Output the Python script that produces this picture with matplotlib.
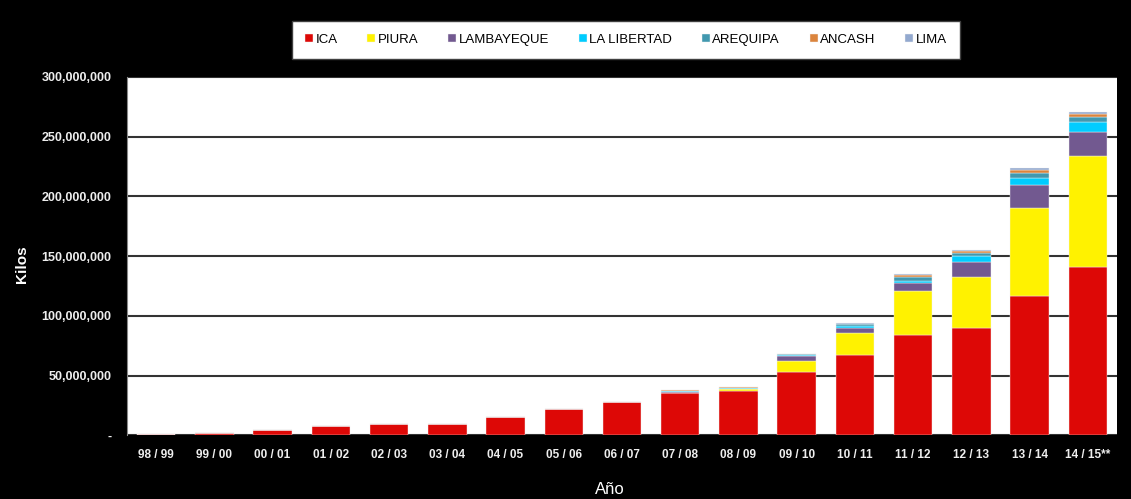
import matplotlib.pyplot as plt
from matplotlib.ticker import FuncFormatter
import numpy as np

plt.rcParams["font.family"] = ["Liberation Sans", "DejaVu Sans"]

years = ["98 / 99", "99 / 00", "00 / 01", "01 / 02", "02 / 03", "03 / 04",
         "04 / 05", "05 / 06", "06 / 07", "07 / 08", "08 / 09", "09 / 10",
         "10 / 11", "11 / 12", "12 / 13", "13 / 14", "14 / 15**"]

# millions of kilos
ica = [1.3, 2.1, 4.3, 7.9, 9.9, 9.9, 15.5, 22.2, 27.8, 35.8, 37.2,
       52.9, 67.4, 84.0, 90.0, 116.4, 141.4]
piura = [0, 0, 0, 0, 0, 0, 0, 0, 0, 0, 1.7,
         9.8, 18.6, 36.5, 43.0, 73.8, 92.5]
lambayeque = [0, 0, 0, 0, 0, 0, 0, 0, 0, 1.0, 0.3,
              3.5, 4.2, 7.0, 12.0, 19.5, 19.7]
la_libertad = [0, 0, 0, 0, 0, 0, 0, 0, 0, 0.2, 0.2,
               1.2, 1.0, 1.9, 4.8, 6.1, 8.4]
arequipa = [0, 0, 0, 0, 0, 0, 0, 0, 0, 0.3, 0.2,
            0.6, 2.0, 3.5, 2.8, 3.6, 4.7]
ancash = [0, 0, 0, 0, 0, 0, 0, 0, 0, 0.5, 1.0,
          0.3, 0.3, 1.5, 1.4, 2.8, 2.3]
lima = [0, 0, 0, 0, 0, 0, 0, 0, 0, 0.2, 0.2,
        0.2, 0.8, 0.5, 1.4, 1.4, 1.7]

series = [
    ("ICA", ica, "#DD0806"),
    ("PIURA", piura, "#FFF200"),
    ("LAMBAYEQUE", lambayeque, "#725990"),
    ("LA LIBERTAD", la_libertad, "#00CCFF"),
    ("AREQUIPA", arequipa, "#4198AF"),
    ("ANCASH", ancash, "#DB843D"),
    ("LIMA", lima, "#93A9CF"),
]

fig = plt.figure(figsize=(11.31, 4.99), dpi=100, facecolor="black")
ax = fig.add_axes([0.1123, 0.1273, 0.8753, 0.7184])
ax.set_facecolor("white")

x = np.arange(len(years))
bottom = np.zeros(len(years))
for name, vals, color in series:
    v = np.array(vals) * 1e6
    ax.bar(x, v, 0.66, bottom=bottom, color=color, label=name,
           edgecolor="#f4f4f4", linewidth=0.3, zorder=3)
    bottom += v

ax.set_xlim(-0.5, len(years) - 0.5)
ax.set_ylim(0, 300e6)
ax.set_yticks(np.arange(0, 300e6 + 1, 50e6))
ax.yaxis.set_major_formatter(
    FuncFormatter(lambda v, p: "-" if v == 0 else f"{v:,.0f}"))
ax.set_xticks(x)
ax.set_xticklabels(years)

ax.grid(axis="y", color="#333333", linewidth=1.5, zorder=1)
for s in ["top", "right", "bottom"]:
    ax.spines[s].set_visible(False)
ax.spines["left"].set_color("#888888")

ax.tick_params(axis="both", length=0, colors="white")
ax.tick_params(axis="y", pad=11)
ax.tick_params(axis="x", pad=10)
for lbl in ax.get_yticklabels():
    lbl.set_fontsize(9)
    lbl.set_fontweight("bold")
    lbl.set_color("#eeeeee")
for lbl in ax.get_xticklabels():
    lbl.set_fontsize(8.5)
    lbl.set_fontweight("bold")
    lbl.set_color("#eeeeee")

fig.text(22 / 1131, 1 - 264 / 499, "Kilos", color="white", fontsize=11,
         fontweight="bold", rotation=90, ha="center", va="center")
fig.text(610 / 1131, 1 - 489 / 499, "Año", color="white", fontsize=12,
         ha="center", va="center")

leg = fig.legend(loc="center", bbox_to_anchor=(0.5535, 0.92), ncol=7,
                 frameon=True, fancybox=False, edgecolor="#404040",
                 facecolor="white", framealpha=1, fontsize=9.5,
                 handlelength=0.6, handleheight=0.6, handletextpad=0.2,
                 columnspacing=2.25, borderpad=1.0)
leg.get_frame().set_linewidth(1.0)

fig.savefig("out.png", dpi=100, facecolor="black")
